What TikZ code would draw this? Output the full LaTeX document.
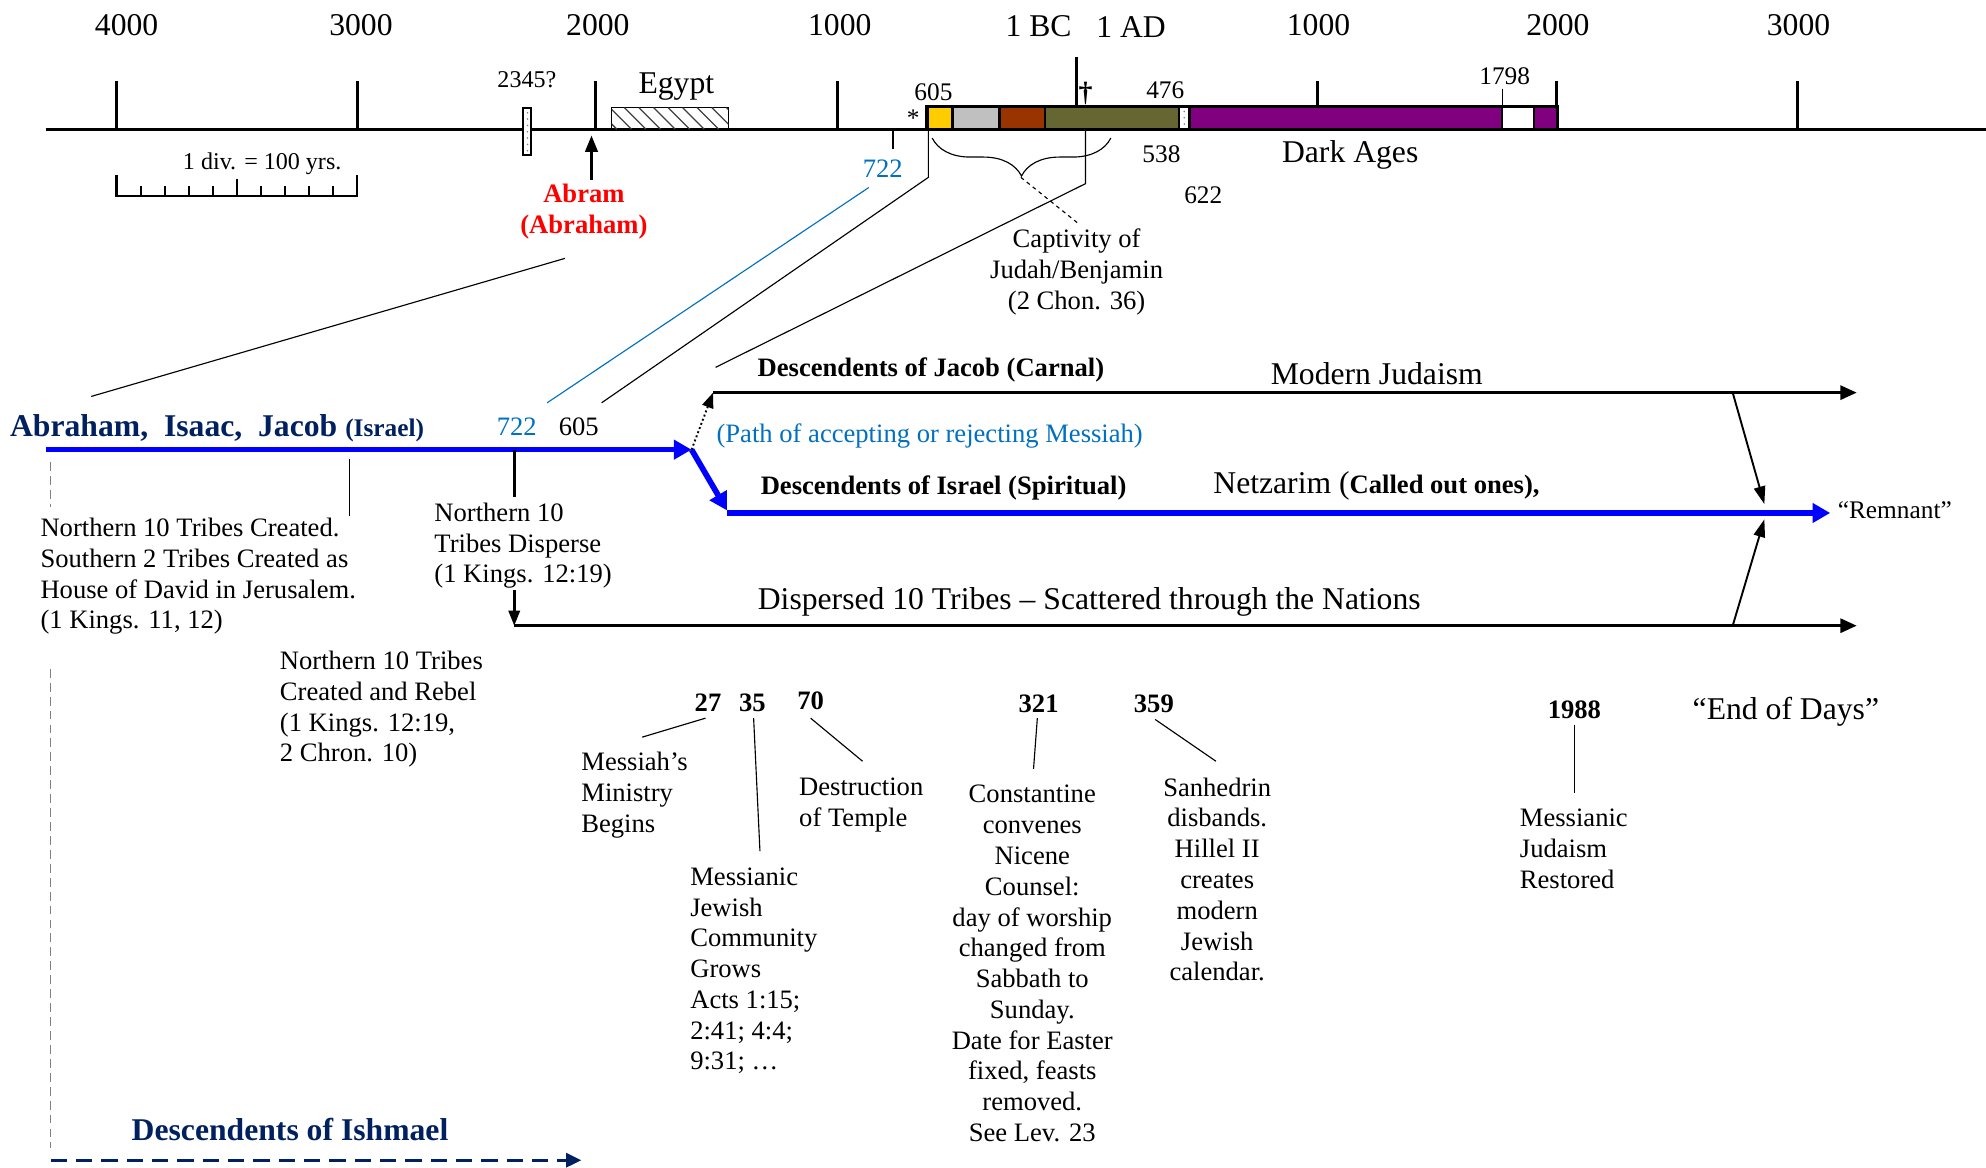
\documentclass[tikz,border=0pt]{standalone}
\usepackage{fontspec}
\setmainfont{Liberation Serif}
\usetikzlibrary{arrows.meta,decorations.pathreplacing,calc}
\definecolor{navy}{RGB}{0,32,96}
\definecolor{ltblue}{RGB}{0,112,192}
\definecolor{cyellow}{RGB}{255,204,0}
\definecolor{cgray}{RGB}{192,192,192}
\definecolor{cbrown}{RGB}{153,51,0}
\definecolor{colive}{RGB}{102,102,51}
\definecolor{cpurple}{RGB}{128,0,128}
\begin{document}
\begin{tikzpicture}[x=1pt,y=-1pt,
  every node/.style={inner sep=0pt,outer sep=0pt},
  lbig/.style={font=\fontsize{25}{29}\selectfont},
  lmid/.style={font=\fontsize{21}{24.3}\selectfont},
  lsml/.style={font=\fontsize{20}{24}\selectfont},
  lbold/.style={font=\fontsize{21}{24.3}\selectfont\bfseries},
  para/.style={font=\fontsize{21}{24.3}\selectfont,align=left,anchor=north west},
  parac/.style={font=\fontsize{21}{24.3}\selectfont,align=center,anchor=north},
  axisline/.style={line width=2.5pt},
  ticks/.style={line width=2.2pt},
  thinline/.style={line width=0.9pt},
  seg/.style={draw=black,line width=2pt},
  blk/.style={line width=2.5pt,-{Triangle[length=13pt,width=11pt]}},
  blu/.style={draw=blue,line width=4.5pt,-{Triangle[length=14pt,width=15pt]}},
  diag/.style={line width=1.5pt,-{Triangle[length=14pt,width=9pt]}}
]
\useasboundingbox (0,0) rectangle (1568,922);

% ---------- year labels ----------
\node[lbig] (y4000) at (100,20) {4000};
\node[lbig] (y3000) at (285,20) {3000};
\node[lbig] (y2000) at (472,20) {2000};
\node[lbig] (y1000) at (663,20) {1000};
\node[lbig] (ybc) at (820,21) {1 BC};
\node[lbig] (yad) at (893,21) {1 AD};
\node[lbig] (a1000) at (1041,20) {1000};
\node[lbig] (a2000) at (1230,20) {2000};
\node[lbig] (a3000) at (1420,20) {3000};

% ---------- axis ----------
\coordinate (axL) at (36,102);
\coordinate (axR) at (1568,102);
\draw[axisline] (axL) -- (axR);
\foreach \x in {92,282,470,661,1040,1229,1419}
  \draw[ticks] (\x,64) -- (\x,102);
\draw[ticks] (850,45) -- (850,85);

% scale bar
\node[lsml,font=\fontsize{19}{22}\selectfont] (divlbl) at (207,129) {1 div. = 100 yrs.};
\draw[line width=1.8pt] (92,138) -- (92,155) -- (282,155) -- (282,138);
\foreach \i in {1,...,9}
  \draw[line width=1.5pt] ({92+19*\i},147) -- ({92+19*\i},155);
\draw[line width=1.5pt] (187,141) -- (187,155);

% 2345? marker
\node[lsml,font=\fontsize{19}{22}\selectfont] (l2345) at (416,63) {2345?};
\filldraw[fill=white,draw=black,line width=1.6pt] (413,85) rectangle (419,122);
\foreach \yy in {89,94,...,119} \fill[gray] (416.5,\yy) circle (0.7);

% Egypt
\node[lbig] (egypt) at (534,68) {Egypt};
\draw[line width=0.9pt] (483,85) rectangle (575,102);
\begin{scope}
  \clip (483,85) rectangle (575,102);
  \foreach \x in {470,481.5,...,580} \draw[line width=1pt,black!75] (\x,85) -- (\x+17,102);
\end{scope}

% Abram arrow
\coordinate (abrBot) at (467,142);
\coordinate (abrTop) at (467,107);
\draw[line width=2pt,-{Triangle[length=13pt,width=10pt]}] (abrBot) -- (abrTop);
\node[lbold,text=red,align=center] (abram) at (461,167) {Abram\\(Abraham)};

% ---------- coloured bar ----------
\draw[line width=2.5pt] (731.5,84) rectangle (1229.7,102);
\filldraw[seg,fill=cyellow] (732.5,84) rectangle (752,102);
\filldraw[seg,fill=cgray] (752,84) rectangle (789,102);
\filldraw[seg,fill=cbrown] (789,84) rectangle (825,102);
\filldraw[seg,fill=colive] (825,84) rectangle (931,102);
\filldraw[seg,fill=white] (931,84) rectangle (939,102);
\foreach \yy in {88,93,98} \fill[gray] (935,\yy) circle (0.7);
\filldraw[seg,fill=cpurple] (939,84) rectangle (1186,102);
\filldraw[seg,fill=white] (1186,84) rectangle (1211,102);
\filldraw[seg,fill=cpurple] (1211,84) rectangle (1229.5,102);

\node[lsml] (l605) at (737,73) {605};
\node[lsml] (ast) at (721,93) {*};
\node[lsml] (l476) at (920,71) {476};
\node[font=\fontsize{22}{24}\selectfont\bfseries] (dagger) at (857,74) {†};
\node[lsml] (l1798) at (1188,60) {1798};
\draw[thinline] (1186,70) -- (1186,84);

% below-bar labels
\node[lmid,text=ltblue] (l722a) at (697,133) {722};
\draw[thinline] (705,103) -- (705,118);
\node[lsml] (l538) at (917,122) {538};
\node[lsml] (l622) at (950,154) {622};
\node[lbig] (dark) at (1066,122) {Dark Ages};

% brace
\draw[thinline,decorate,decoration={brace,mirror,amplitude=30pt,aspect=0.5}] (736,109) -- (877,109);
\coordinate (braceTip) at (806,140);
\coordinate (captTop) at (852,177);
\draw[thinline,dashed] (braceTip) -- (captTop);
\node[parac] (capt) at (850,181) {Captivity of\\Judah/Benjamin\\(2 Chon. 36)};

% connectors to second row
\coordinate (abrL1) at (446,204);
\coordinate (abrL2) at (72,313);
\draw[thinline] (abrL1) -- (abrL2);
\coordinate (b722a) at (686,148);
\coordinate (b722b) at (432,318);
\draw[ltblue,thinline] (b722a) -- (b722b);
\coordinate (c605a) at (733,103);
\coordinate (c605b) at (733,140);
\coordinate (c605c) at (475,318);
\draw[thinline] (c605a) -- (c605b) -- (c605c);
\coordinate (cdag1) at (857,103);
\coordinate (cdag2) at (857,145);
\coordinate (cdag3) at (565,290);
\draw[thinline] (cdag1) -- (cdag2) -- (cdag3);

% ---------- second row ----------
\node[font=\fontsize{25}{29}\selectfont\bfseries,text=navy,anchor=west] (aij) at (8,338)
  {Abraham,\ \ Isaac,\ \ Jacob {\fontsize{20}{24}\selectfont(Israel)}};
\node[lmid,text=ltblue] (l722b) at (408,337) {722};
\node[lmid] (l605b) at (457,337) {605};

\coordinate (bS) at (36,355);
\coordinate (bK) at (546,355);
\coordinate (bD) at (574,403);
\coordinate (bE) at (1445,405);
\draw[blu] (bS) -- (bK);
\draw[blu] (bK) -- (bD);
\draw[draw=blue,line width=4.5pt,-{Triangle[length=14pt,width=15pt]}] (574,405) -- (bE);
\node[font=\fontsize{20}{24}\selectfont,anchor=west] (remnant) at (1451,403) {“Remnant”};

\coordinate (jS) at (563,310);
\coordinate (jE) at (1466,310);
\draw[line width=1.5pt,dotted,-{Triangle[length=12pt,width=9pt]}] (bK) -- (jS);
\draw[blk] (jS) -- (jE);
\node[lbold] (jacob) at (735,292) {Descendents of Jacob (Carnal)};
\node[lbig] (modern) at (1087,295) {Modern Judaism};
\node[lmid,text=ltblue] (path) at (734,344) {(Path of accepting or rejecting Messiah)};
\node[lbold] (israel) at (745,385) {Descendents of Israel (Spiritual)};
\node[lbig,anchor=west] (netz) at (958,384) {Netzarim ({\fontsize{21}{24}\selectfont\bfseries Called out ones),}};

\coordinate (d1a) at (1368,310);
\coordinate (d1b) at (1393,398);
\coordinate (d2a) at (1368,494);
\coordinate (d2b) at (1393,410);
\draw[diag] (d1a) -- (d1b);
\draw[diag] (d2a) -- (d2b);

% dispersed
\coordinate (dS) at (406,494);
\coordinate (dE) at (1466,494);
\draw[blk] (dS) -- (dE);
\coordinate (n10a) at (406,355);
\coordinate (n10b) at (406,392);
\draw[line width=2pt] (n10a) -- (n10b);
\coordinate (n10c) at (406,466);
\draw[line width=2pt,-{Triangle[length=12pt,width=9pt]}] (n10c) -- (dS);
\node[para] (disp) at (343,397) {Northern 10\\Tribes Disperse\\(1 Kings. 12:19)};
\node[lbig] (dispt) at (860,475) {Dispersed 10 Tribes – Scattered through the Nations};

% left notes
\coordinate (sth1) at (276,362);
\coordinate (sth2) at (276,407);
\draw[thinline] (sth1) -- (sth2);
\node[para] (north) at (32,409) {Northern 10 Tribes Created.\\Southern 2 Tribes Created as\\House of David in Jerusalem.\\(1 Kings. 11, 12)};
\draw[gray,line width=1pt,dash pattern=on 7pt off 4pt] (40,365) -- (40,400);
\draw[gray,line width=1pt,dash pattern=on 7pt off 4pt] (40,528) -- (40,906);
\node[para] (rebel) at (221,514) {Northern 10 Tribes\\Created and Rebel\\(1 Kings. 12:19,\\2 Chron. 10)};

% Ishmael
\node[font=\fontsize{25}{29}\selectfont\bfseries,text=navy] (ishm) at (229,892) {Descendents of Ishmael};
\coordinate (iS) at (40,916);
\coordinate (iE) at (459,916);
\draw[navy,line width=2.5pt,dash pattern=on 13pt off 7pt,-{Triangle[length=12pt,width=11pt]}] (iS) -- (iE);

% ---------- lower events ----------
\node[lbold] (e27) at (559,555) {27};
\node[lbold] (e35) at (594,555) {35};
\node[lbold] (e70) at (640,553) {70};
\draw[thinline] (557,567) -- (507,582);
\node[para] (mess) at (459,594) {Messiah’s\\Ministry\\Begins};
\draw[thinline] (595,567) -- (600,672);
\node[para] (mjc) at (545,685) {Messianic\\Jewish\\Community\\Grows\\Acts 1:15;\\2:41; 4:4;\\9:31; …};
\draw[thinline] (640,567) -- (681,601);
\node[para] (destr) at (631,614) {Destruction\\of Temple};

\node[lbold] (e321) at (820,556) {321};
\draw[thinline] (819,567) -- (816,607);
\node[parac] (const) at (815,620) {Constantine\\convenes\\Nicene\\Counsel:\\day of worship\\changed from\\Sabbath to\\Sunday.\\Date for Easter\\fixed, feasts\\removed.\\See Lev. 23};

\node[lbold] (e359) at (911,556) {359};
\draw[thinline] (912,568) -- (960,601);
\node[parac] (sanh) at (961,614) {Sanhedrin\\disbands.\\Hillel II\\creates\\modern\\Jewish\\calendar.};

\node[lbold] (e1988) at (1243,560) {1988};
\draw[thinline] (1243,572) -- (1243,626);
\node[para] (mjr) at (1200,639) {Messianic\\Judaism\\Restored};

\node[lbig] (endd) at (1410,562) {“End of Days”};
\end{tikzpicture}
\end{document}
